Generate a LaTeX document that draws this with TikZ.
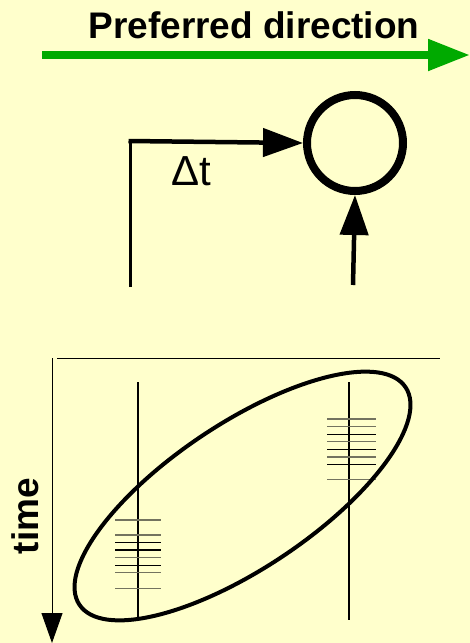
\documentclass[tikz,border=0pt]{standalone}
\usepackage{fontspec}
\setmainfont{Liberation Sans}
\usepackage{tikz}
\usetikzlibrary{arrows.meta,positioning,calc}
\definecolor{bgyel}{RGB}{255,255,204}
\definecolor{prefgreen}{RGB}{0,170,0}
\definecolor{spkgray}{RGB}{115,115,95}
\tikzset{
  bigtxt/.style={font=\fontsize{37}{42}\selectfont\bfseries, inner sep=0pt},
  lbltxt/.style={font=\fontsize{42}{46}\selectfont, inner sep=0pt},
  unit/.style={draw, circle, line width=8pt, minimum size=96pt, inner sep=0pt},
  wire/.style={line width=4.5pt},
  thinwire/.style={line width=3pt},
  arr/.style={wire, -{Triangle[length=40pt,width=28pt]}},
  garr/.style={draw=prefgreen, line width=8pt, -{Triangle[length=42pt,width=30pt]}},
  axis/.style={line width=1pt},
  taxis/.style={axis, -{Triangle[length=30pt,width=21pt]}},
  raster/.style={line width=1.1pt},
  spike/.style={line width=1.4pt},
  rf/.style={line width=4pt}
}
\begin{document}
\begin{tikzpicture}[x=1pt,y=-1pt]
  \fill[bgyel] (0,0) rectangle (470,643);
  \useasboundingbox (0,0) rectangle (470,643);

  % preferred direction
  \node[bigtxt, anchor=base] (pref) at (254,38) {Preferred direction};
  \coordinate (gl) at (42,55);
  \coordinate (gr) at (470,55);
  \draw[garr] (gl) -- (gr);

  % detector unit
  \node[unit] (det) at (355,143) {};
  \coordinate (din) at (130,287);
  \coordinate (dcorner) at (130,141);
  \coordinate (ndin) at (353,285);
  \draw[thinwire] (din) -- ([yshift=-2pt]dcorner);
  \draw[arr] ([xshift=-1.5pt]dcorner) -- (det.west);
  \draw[arr] (ndin) -- (det.south);
  \node[lbltxt, anchor=base west] (dt) at (171,185) {Δt};

  % raster plot
  \coordinate (origin) at (52,358);
  \coordinate (xend) at (440,358);
  \coordinate (tend) at (52,643);
  \draw[axis] ([xshift=5pt]origin) -- (xend);
  \draw[taxis] (origin) -- (tend);
  \node[bigtxt, rotate=90, anchor=base] (time) at (38,516) {time};

  \draw[raster] (138,382) -- (138,618);
  \draw[raster] (349,382) -- (349,620);
  \foreach \y/\c in {520/spkgray,535/spkgray,550/black,557.7/spkgray,565.3/black,572.7/spkgray,588.3/spkgray}
    \draw[spike, draw=\c] (115,\y) -- (161,\y);
  \draw[line width=1.9pt] (115,542.5) -- (161,542.5);
  \foreach \y/\c in {419/spkgray,426.7/spkgray,434.3/black,441.7/spkgray,449.3/black,457/spkgray,464.3/black,479.5/spkgray}
    \draw[spike, draw=\c] (327,\y) -- (376,\y);

  % receptive field
  \draw[rf, rotate around={33.7:(242.5,496)}] (242.5,496) ellipse [x radius=196, y radius=72.5];
\end{tikzpicture}
\end{document}
